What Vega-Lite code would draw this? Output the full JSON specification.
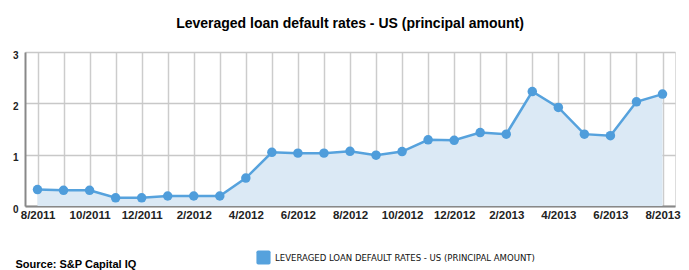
{
  "$schema": "https://vega.github.io/schema/vega-lite/v6.json",
  "autosize": {"type": "none"},
  "width": 650,
  "height": 154,
  "padding": {"left": 25, "top": 52, "right": 14, "bottom": 64},
  "background": "white",
  "title": {
    "text": "Leveraged loan default rates - US (principal amount)",
    "font": "Liberation Sans",
    "fontSize": 14,
    "fontWeight": "bold",
    "color": "#000000",
    "anchor": "middle",
    "offset": 19
  },
  "data": {
    "values": [
      {"month": "8/2011", "rate": 0.32},
      {"month": "9/2011", "rate": 0.305},
      {"month": "10/2011", "rate": 0.305},
      {"month": "11/2011", "rate": 0.16},
      {"month": "12/2011", "rate": 0.16},
      {"month": "1/2012", "rate": 0.195},
      {"month": "2/2012", "rate": 0.195},
      {"month": "3/2012", "rate": 0.195},
      {"month": "4/2012", "rate": 0.545},
      {"month": "5/2012", "rate": 1.045},
      {"month": "6/2012", "rate": 1.03},
      {"month": "7/2012", "rate": 1.03},
      {"month": "8/2012", "rate": 1.065},
      {"month": "9/2012", "rate": 0.99},
      {"month": "10/2012", "rate": 1.06},
      {"month": "11/2012", "rate": 1.29},
      {"month": "12/2012", "rate": 1.28},
      {"month": "1/2013", "rate": 1.43},
      {"month": "2/2013", "rate": 1.40},
      {"month": "3/2013", "rate": 2.23},
      {"month": "4/2013", "rate": 1.92},
      {"month": "5/2013", "rate": 1.40},
      {"month": "6/2013", "rate": 1.37},
      {"month": "7/2013", "rate": 2.03},
      {"month": "8/2013", "rate": 2.18}
    ]
  },
  "encoding": {
    "x": {
      "field": "month",
      "type": "ordinal",
      "sort": null,
      "scale": {"type": "point", "padding": 0.48},
      "axis": {
        "title": "Source: S&P Capital IQ",
        "titleFont": "Liberation Sans",
        "titleFontSize": 11,
        "titleFontWeight": "bold",
        "titleColor": "#000000",
        "titleAnchor": "start",
        "titleAlign": "left",
        "titleBaseline": "middle",
        "titleX": -10,
        "titleY": 58,
        "labelAngle": 0,
        "labelFont": "Liberation Sans",
        "labelFontSize": 11.5,
        "labelFontWeight": "bold",
        "labelColor": "#222222",
        "labelPadding": 3,
        "labelExpr": "toNumber(split(datum.value, '/')[0]) % 2 == 0 ? datum.value : ''",
        "labelOverlap": false,
        "ticks": false,
        "domainColor": "#888888",
        "domainWidth": 2,
        "grid": true,
        "gridColor": "#cccccc",
        "gridWidth": 1.5
      }
    },
    "y": {
      "field": "rate",
      "type": "quantitative",
      "scale": {"domain": [0, 3], "nice": false},
      "axis": {
        "title": null,
        "values": [0, 1, 2, 3],
        "labelFont": "Liberation Sans",
        "labelFontSize": 10,
        "labelFontWeight": "bold",
        "labelColor": "#222222",
        "labelPadding": 7,
        "labelOffset": 3,
        "ticks": false,
        "domainColor": "#888888",
        "domainWidth": 2,
        "grid": true,
        "gridColor": "#c8c8c8",
        "gridWidth": 1.5
      }
    }
  },
  "layer": [
    {
      "mark": {"type": "area", "color": "#dbe9f5", "opacity": 1}
    },
    {
      "mark": {"type": "line", "color": "#4f9ddb", "strokeWidth": 2.5},
      "encoding": {
        "color": {
          "datum": "LEVERAGED LOAN DEFAULT RATES - US (PRINCIPAL AMOUNT)",
          "scale": {"range": ["#56a2dd"]},
          "legend": {
            "title": null,
            "orient": "none",
            "legendX": 231,
            "legendY": 198,
            "symbolType": "M-0.75,-1 L0.75,-1 Q1,-1 1,-0.75 L1,0.75 Q1,1 0.75,1 L-0.75,1 Q-1,1 -1,0.75 L-1,-0.75 Q-1,-1 -0.75,-1 Z",
            "symbolSize": 200,
            "symbolFillColor": "#56a2dd",
            "symbolStrokeColor": "#56a2dd",
            "symbolStrokeWidth": 0,
            "labelFont": "DejaVu Sans Condensed",
            "labelFontSize": 9.5,
            "labelLimit": 0,
            "labelColor": "#111111",
            "labelOffset": 4
          }
        }
      }
    },
    {
      "mark": {"type": "point", "filled": true, "color": "#4f9ddb", "size": 90, "opacity": 1}
    }
  ]
}
